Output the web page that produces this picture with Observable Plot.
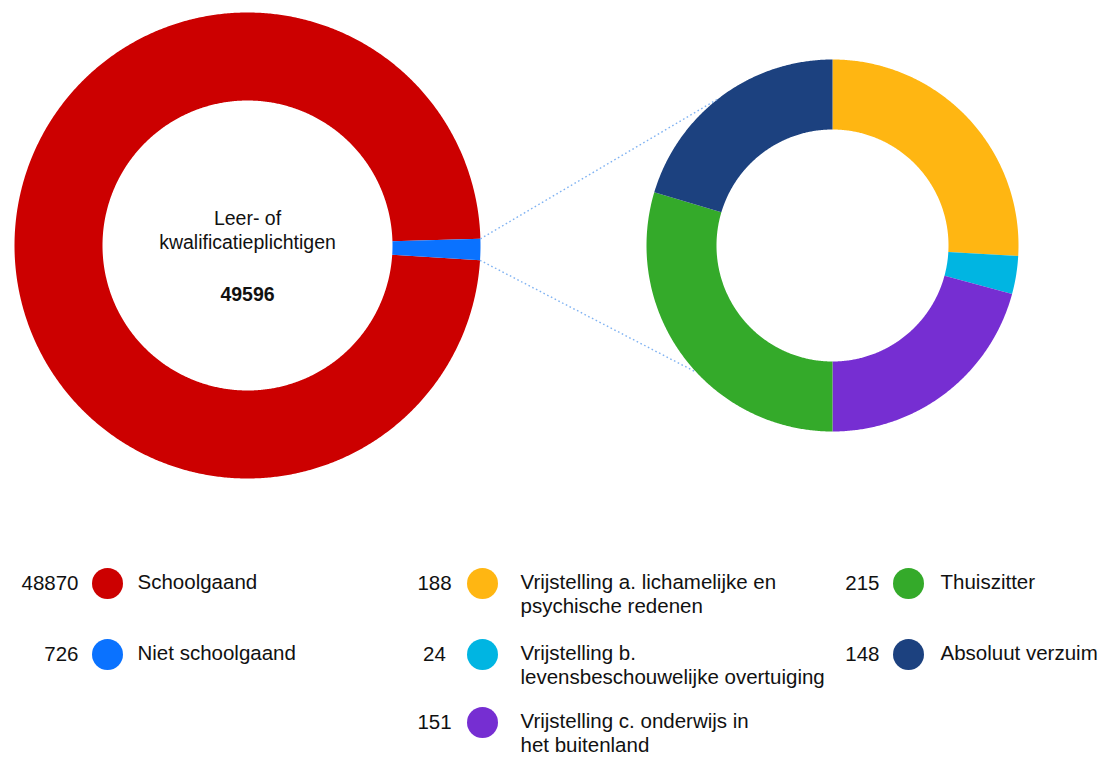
<!DOCTYPE html>
<html>
<head>
<meta charset="utf-8">
<script src="https://cdn.jsdelivr.net/npm/d3@7"></script>
<script src="https://cdn.jsdelivr.net/npm/@observablehq/plot@0.6"></script>
<style>
  html, body { margin: 0; padding: 0; background: #fff; }
  #chart svg { display: block; }
</style>
</head>
<body>
<div id="chart"></div>
<script>
// ---------- DATA ----------
const centerTitle = "Leer- of\nkwalificatieplichtigen";
const mainLabels = ["Schoolgaand", "Niet schoolgaand"];
const mainValues = [48870, 726];
const mainColors = ["#cc0000", "#0a72ff"];

const subLabels = [
  "Vrijstelling a. lichamelijke en\npsychische redenen",
  "Vrijstelling b.\nlevensbeschouwelijke overtuiging",
  "Vrijstelling c. onderwijs in\nhet buitenland",
  "Thuiszitter",
  "Absoluut verzuim"
];
const subValues = [188, 24, 151, 215, 148];
const subColors = ["#ffb612", "#00b5e2", "#762ed2", "#34aa2a", "#1c417f"];

// ---------- LAYOUT ----------
const W = 1100, H = 757;
const FONT = "'Liberation Sans', Arial, Helvetica, sans-serif";
const left = {cx: 247, cy: 245, R: 233, r: 145};
const right = {cx: 832, cy: 245, R: 186, r: 116};
const deg = Math.PI / 180;
// main pie rotated so the small slice sits at 3 o'clock
const mainSpanSmall = mainValues[1] / d3.sum(mainValues) * 2 * Math.PI;
const mainStart = 91 * deg + mainSpanSmall / 2;
const connectorTargets = [322 * deg, 227 * deg];

const legendCols = [
  {numX: 78, numAnchor: "end", dotX: 107, labelX: 137},
  {numX: 434, numAnchor: "middle", dotX: 482, labelX: 520},
  {numX: 879, numAnchor: "end", dotX: 908, labelX: 940}
];
const legendRows = [583, 654, 722];
const FS = 19.5;
const LFS = 20.5;

// ---------- BUILD ----------
function polar(c, r, a) { return [c.cx + r * Math.sin(a), c.cy - r * Math.cos(a)]; }

function sector(key, color, a0, a1, c) {
  const n = Math.max(2, Math.ceil((a1 - a0) / (0.4 * deg)));
  const pts = [];
  for (let i = 0; i <= n; i++) {
    const [x, y] = polar(c, c.R, a0 + (a1 - a0) * i / n);
    pts.push({key, color, x, y});
  }
  for (let i = n; i >= 0; i--) {
    const [x, y] = polar(c, c.r, a0 + (a1 - a0) * i / n);
    pts.push({key, color, x, y});
  }
  return pts;
}

const mainArcs = d3.pie().sort(null).startAngle(mainStart).endAngle(mainStart + 2 * Math.PI)(mainValues);
const subArcs = d3.pie().sort(null).startAngle(0).endAngle(2 * Math.PI)(subValues);

const slicePoints = [
  ...mainArcs.flatMap((a, i) => sector("m" + i, mainColors[i], a.startAngle, a.endAngle, left)),
  ...subArcs.flatMap((a, i) => sector("s" + i, subColors[i], a.startAngle, a.endAngle, right))
];

const small = mainArcs[1];
const connectors = [small.startAngle, small.endAngle].map((a, i) => {
  const [x1, y1] = polar(left, left.R, a);
  const [x2, y2] = polar(right, right.R, connectorTargets[i]);
  return {x1, y1, x2, y2};
});

const legend = [
  ...mainLabels.map((label, i) => ({label, value: mainValues[i], color: mainColors[i], col: 0, row: i})),
  ...subLabels.map((label, i) => ({label, value: subValues[i], color: subColors[i], col: i < 3 ? 1 : 2, row: i < 3 ? i : i - 3}))
].map(d => ({...d, ...legendCols[d.col], y: legendRows[d.row]}));

const total = d3.sum(mainValues);

const chart = Plot.plot({
  width: W,
  height: H,
  margin: 0,
  x: {domain: [0, W], range: [0, W], axis: null},
  y: {domain: [0, H], range: [0, H], axis: null},
  color: {type: "identity"},
  style: {fontFamily: FONT, background: "#fff", color: "#111"},
  marks: [
    Plot.line(slicePoints, {x: "x", y: "y", z: "key", fill: "color", stroke: null}),
    Plot.link(connectors, {x1: "x1", y1: "y1", x2: "x2", y2: "y2", stroke: "#7fb2f2", strokeWidth: 1.4, strokeDasharray: "1.6 2.6"}),
    Plot.text([centerTitle], {x: () => left.cx, y: () => left.cy - 16, text: d => d, fontSize: FS, lineHeight: 1.23, fill: "#111"}),
    Plot.text([total], {x: () => left.cx, y: () => left.cy + 49, text: d => String(d), fontSize: FS, fontWeight: "bold", fill: "#111"}),
    Plot.text(legend.filter(d => d.numAnchor === "end"), {x: "numX", y: "y", text: d => String(d.value), textAnchor: "end", fontSize: LFS, fill: "#111"}),
    Plot.text(legend.filter(d => d.numAnchor === "middle"), {x: "numX", y: "y", text: d => String(d.value), textAnchor: "middle", fontSize: LFS, fill: "#111"}),
    Plot.dot(legend, {x: "dotX", y: "y", r: 15.5, fill: "color", stroke: null}),
    Plot.text(legend, {x: "labelX", y: d => d.y - 11, text: "label", textAnchor: "start", lineAnchor: "top", fontSize: LFS, lineHeight: 1.15, fill: "#111"})
  ]
});
document.getElementById("chart").appendChild(chart);
</script>
</body>
</html>
